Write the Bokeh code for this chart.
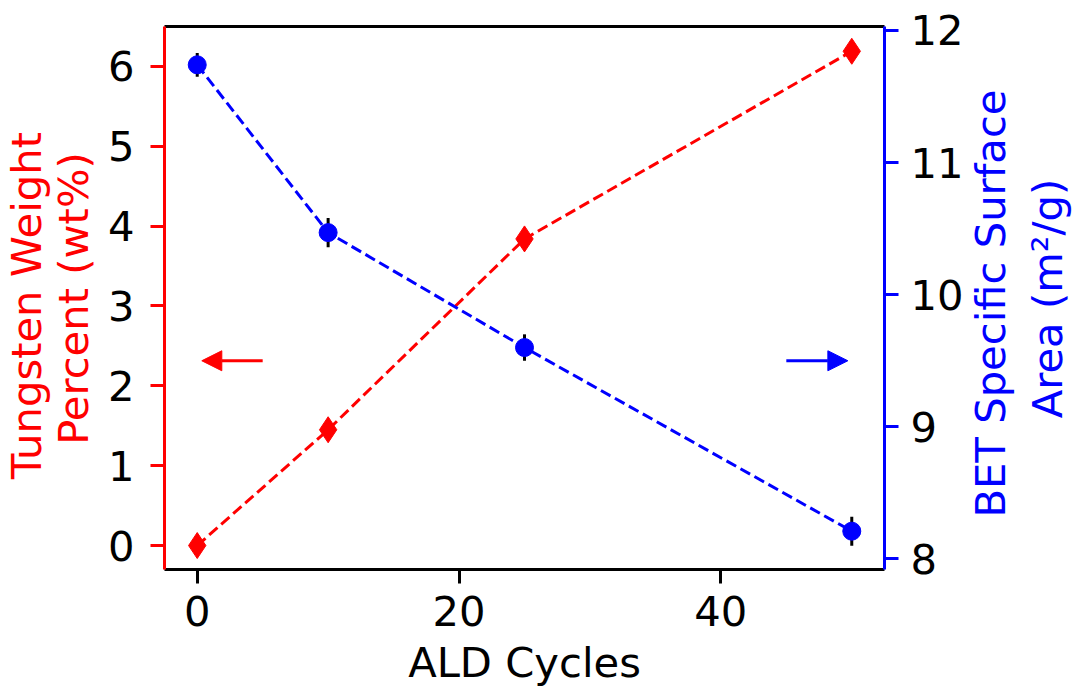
import math
from bokeh.plotting import figure
from bokeh.layouts import row
from bokeh.models import LinearAxis, Range1d, FixedTicker, Arrow, NormalHead, ColumnDataSource, Label
from bokeh.embed import file_html
from bokeh.resources import INLINE

# data
cycles = [0, 10, 25, 50]
tungsten_wt = [0.0, 1.45, 3.84, 6.19]
bet_area = [11.74, 10.47, 9.60, 8.21]
bet_err = [0.09, 0.11, 0.10, 0.11]
x_ticks = [0, 20, 40]
left_ticks = [0, 1, 2, 3, 4, 5, 6]
right_ticks = [8, 9, 10, 11, 12]
x_title = "ALD Cycles"
left_title = ["Tungsten Weight", "Percent (wt%)"]
right_title = ["BET Specific Surface", "Area (m\u00b2/g)"]
arrow_y = 9.5
red_arrow = (5.0, 0.35)
blue_arrow = (45.0, 49.7)

RED = "#ff0000"
BLUE = "#0000ff"
FONT = "DejaVu Sans"
FS = "41.7px"
TOP, FH, BOT = 26, 543, 118
H = TOP + FH + BOT
FB = FH
LEFT_W, MAIN_L, FRAME_W, MAIN_R = 100, 64, 720, 80
RIGHT_W = 1073 - (LEFT_W + MAIN_L + FRAME_W + MAIN_R)

p = figure(frame_width=FRAME_W, frame_height=FH,
           x_range=Range1d(-2.5, 52.5), y_range=Range1d(-0.3, 6.5),
           output_backend="svg", toolbar_location=None,
           min_border_left=MAIN_L, min_border_right=MAIN_R,
           min_border_top=TOP, min_border_bottom=BOT,
           background_fill_color="white", border_fill_color="white")
p.extra_y_ranges = {"bet": Range1d(7.92, 12.03)}
p.grid.visible = False
p.outline_line_color = None

def style_axis(ax, color, standoff):
    ax.axis_line_color = color
    ax.axis_line_width = 3
    ax.major_tick_line_color = color
    ax.major_tick_line_width = 3
    ax.major_tick_out = 14
    ax.major_tick_in = 0
    ax.minor_tick_line_color = None
    ax.major_label_text_font = FONT
    ax.major_label_text_font_size = FS
    ax.major_label_text_color = "black"
    ax.major_label_standoff = standoff
    ax.axis_label_text_font = FONT
    ax.axis_label_text_font_size = FS
    ax.axis_label_text_font_style = "normal"

xa = p.xaxis[0]
style_axis(xa, "black", 12)
xa.ticker = FixedTicker(ticks=x_ticks)
xa.axis_label = x_title
xa.axis_label_text_color = "black"
xa.axis_label_standoff = 9

ya = p.yaxis[0]
style_axis(ya, RED, 16)
ya.ticker = FixedTicker(ticks=left_ticks)

ra = LinearAxis(y_range_name="bet")
style_axis(ra, BLUE, 12)
ra.ticker = FixedTicker(ticks=right_ticks)
p.add_layout(ra, "right")

ta = LinearAxis(ticker=FixedTicker(ticks=[]))
ta.axis_line_color = "black"
ta.axis_line_width = 3
ta.major_tick_out = 0
ta.major_tick_in = 0
ta.minor_tick_line_color = None
ta.major_label_text_font_size = "0px"
p.add_layout(ta, "above")

# tungsten series
src_w = ColumnDataSource(dict(x=cycles, y=tungsten_wt))
p.line("x", "y", source=src_w, line_color=RED, line_width=3, line_dash="11 5")
p.scatter("x", "y", source=src_w, marker="diamond", size=26,
          fill_color=RED, line_color=RED)

# BET series
lo = [v - e for v, e in zip(bet_area, bet_err)]
hi = [v + e for v, e in zip(bet_area, bet_err)]
src_b = ColumnDataSource(dict(x=cycles, y=bet_area, lo=lo, hi=hi))
p.line("x", "y", source=src_b, line_color=BLUE, line_width=3, line_dash="11 5",
       y_range_name="bet")
p.segment(x0="x", y0="lo", x1="x", y1="hi", source=src_b, line_color="black",
          line_width=3, y_range_name="bet")
p.scatter("x", "y", source=src_b, marker="circle", size=18,
          fill_color=BLUE, line_color=BLUE, y_range_name="bet")

# arrows
p.add_layout(Arrow(x_start=red_arrow[0], y_start=arrow_y, x_end=red_arrow[1], y_end=arrow_y,
                   y_range_name="bet", line_color=RED, line_width=3,
                   end=NormalHead(size=20, fill_color=RED, line_color=RED)))
p.add_layout(Arrow(x_start=blue_arrow[0], y_start=arrow_y, x_end=blue_arrow[1], y_end=arrow_y,
                   y_range_name="bet", line_color=BLUE, line_width=3,
                   end=NormalHead(size=20, fill_color=BLUE, line_color=BLUE)))

# side title panels (text reads bottom-to-top)
def side_panel(width, lines, color):
    s = figure(width=width, height=H, x_range=Range1d(0, 1), y_range=Range1d(0, 1),
               x_axis_type=None, y_axis_type=None, output_backend="svg",
               toolbar_location=None, min_border=0,
               background_fill_color="white", border_fill_color="white")
    s.grid.visible = False
    s.outline_line_color = None
    for text, x, y in lines:
        s.add_layout(Label(x=x, y=y, x_units="screen", y_units="screen",
                           text=text, angle=math.pi / 2, text_align="center",
                           text_baseline="alphabetic", text_font=FONT,
                           text_font_size=FS, text_color=color))
    return s

right_x0 = LEFT_W + MAIN_L + FRAME_W + MAIN_R
left_side = side_panel(LEFT_W, [(left_title[0], 26, FB - 307 + TOP),
                                (left_title[1], 73, FB - 300 + TOP)], RED)
right_side = side_panel(RIGHT_W, [(right_title[0], 988 - right_x0, FB - 305 + TOP),
                                  (right_title[1], 1045 - right_x0, FB - 300 + TOP)], BLUE)

layout = row(left_side, p, right_side, spacing=0)
open("out.html", "w").write(file_html(layout, INLINE))
